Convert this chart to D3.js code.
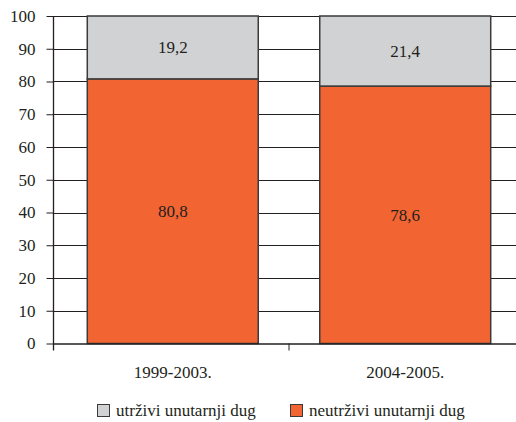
<!DOCTYPE html>
<html><head><meta charset="utf-8">
<script src="https://cdn.jsdelivr.net/npm/d3@7"></script>
<style>body{margin:0;background:#fff}svg{display:block}text{font-family:"Liberation Serif","DejaVu Serif",serif}</style>
</head><body>
<script>
const categories = ["1999-2003.", "2004-2005."];
const neutrzivi = [80.8, 78.6];
const utrzivi = [19.2, 21.4];
const seriesNames = ["utrživi unutarnji dug", "neutrživi unutarnji dug"];
const yTicks = [0,10,20,30,40,50,60,70,80,90,100];
const colors = {gray:"#d1d2d4", orange:"#f26532"};

const W=516,H=422;
const svg=d3.select("body").append("svg").attr("width",W).attr("height",H);
const x0=53;
const y=d3.scaleLinear().domain([0,100]).range([343.5,16]);
const x=d3.scaleBand().domain(categories).range([x0,525]).paddingInner(0.2645).paddingOuter(0.1475);
const FS=17;

svg.append("g").selectAll("line").data(yTicks.filter(d=>d>0)).join("line")
 .attr("x1",x0).attr("x2",W).attr("y1",d=>Math.round(y(d))+0.5).attr("y2",d=>Math.round(y(d))+0.5)
 .attr("stroke","#231f20").attr("stroke-width",1);

const fmt=v=>String(v).replace(".",",");
categories.forEach((c,i)=>{
  const bx=x(c), bw=x.bandwidth();
  svg.append("rect").attr("x",bx).attr("y",y(neutrzivi[i])).attr("width",bw).attr("height",y(0)-y(neutrzivi[i]))
    .attr("fill",colors.orange).attr("stroke","#3a3a3a").attr("stroke-width",1.5);
  svg.append("rect").attr("x",bx).attr("y",y(100)).attr("width",bw).attr("height",y(neutrzivi[i])-y(100))
    .attr("fill",colors.gray).attr("stroke","#3a3a3a").attr("stroke-width",1.5);
  svg.append("text").attr("x",bx+bw/2).attr("y",y(neutrzivi[i]/2)+6).attr("text-anchor","middle")
    .attr("font-size",FS).attr("fill","#231f20").text(fmt(neutrzivi[i]));
  svg.append("text").attr("x",bx+bw/2).attr("y",y(neutrzivi[i]+utrzivi[i]/2)+6).attr("text-anchor","middle")
    .attr("font-size",FS).attr("fill","#231f20").text(fmt(utrzivi[i]));
});

const yAxis=d3.axisLeft(y).tickValues(yTicks).tickSize(7).tickPadding(11);
const gy=svg.append("g").attr("transform",`translate(${x0+0.5},0)`).call(yAxis);
gy.attr("font-family",null);
gy.select(".domain").attr("d",`M0,${y(100)}V${y(0)+7}`).attr("stroke","#231f20").attr("stroke-width",1.3);
gy.selectAll(".tick line").attr("stroke","#231f20");
gy.selectAll(".tick text").attr("font-size",FS).attr("fill","#231f20");

svg.append("line").attr("x1",x0).attr("x2",W).attr("y1",y(0)+0.5).attr("y2",y(0)+0.5).attr("stroke","#231f20").attr("stroke-width",1.5);
const mid=(x(categories[0])+x.bandwidth()+x(categories[1]))/2;
svg.append("line").attr("x1",mid).attr("x2",mid).attr("y1",y(0)).attr("y2",y(0)+7).attr("stroke","#231f20");
categories.forEach(c=>{
  svg.append("text").attr("x",x(c)+x.bandwidth()/2).attr("y",378).attr("text-anchor","middle")
   .attr("font-size",FS).attr("fill","#231f20").text(c);
});

const leg=[{n:seriesNames[0],c:colors.gray,x:97},{n:seriesNames[1],c:colors.orange,x:290}];
leg.forEach(l=>{
  svg.append("rect").attr("x",l.x+0.5).attr("y",404.5).attr("width",12).attr("height",12)
    .attr("fill",l.c).attr("stroke","#3a3a3a").attr("stroke-width",1);
  svg.append("text").attr("x",l.x+19).attr("y",416).attr("font-size",FS)
    .attr("fill","#231f20").text(l.n);
});
</script>
</body></html>
